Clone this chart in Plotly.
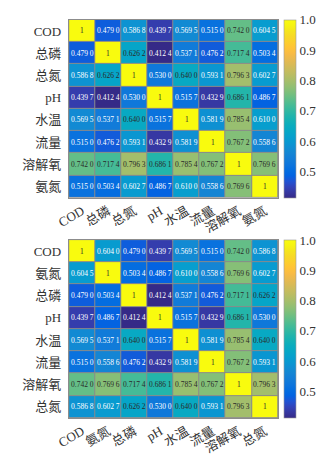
import plotly.graph_objects as go

labels_top = ["COD", "总磷", "总氮", "pH", "水温", "流量", "溶解氧", "氨氮"]
values_top = [
    [1, 0.4790, 0.5868, 0.4397, 0.5695, 0.5150, 0.7420, 0.6045],
    [0.4790, 1, 0.6262, 0.4124, 0.5371, 0.4762, 0.7174, 0.5034],
    [0.5868, 0.6262, 1, 0.5300, 0.6400, 0.5931, 0.7963, 0.6027],
    [0.4397, 0.4124, 0.5300, 1, 0.5157, 0.4329, 0.6861, 0.4867],
    [0.5695, 0.5371, 0.6400, 0.5157, 1, 0.5819, 0.7854, 0.6100],
    [0.5150, 0.4762, 0.5931, 0.4329, 0.5819, 1, 0.7672, 0.5586],
    [0.7420, 0.7174, 0.7963, 0.6861, 0.7854, 0.7672, 1, 0.7696],
    [0.5150, 0.5034, 0.6027, 0.4867, 0.6100, 0.5586, 0.7696, 1],
]

labels_bottom = ["COD", "氨氮", "总磷", "pH", "水温", "流量", "溶解氧", "总氮"]
values_bottom = [
    [1, 0.6040, 0.4790, 0.4397, 0.5695, 0.5150, 0.7420, 0.5868],
    [0.6045, 1, 0.5034, 0.4867, 0.6100, 0.5586, 0.7696, 0.6027],
    [0.4790, 0.5034, 1, 0.4124, 0.5371, 0.4762, 0.7171, 0.6262],
    [0.4397, 0.4867, 0.4124, 1, 0.5157, 0.4329, 0.6861, 0.5300],
    [0.5695, 0.5371, 0.6400, 0.5157, 1, 0.5819, 0.7854, 0.6400],
    [0.5150, 0.5586, 0.4762, 0.4329, 0.5819, 1, 0.7672, 0.5931],
    [0.7420, 0.7696, 0.7174, 0.6861, 0.7854, 0.7672, 1, 0.7963],
    [0.5868, 0.6027, 0.6262, 0.5300, 0.6400, 0.5931, 0.7963, 1],
]

colorbar_ticks = [0.5, 0.6, 0.7, 0.8, 0.9, 1.0]

parula = [
    (0.2081, 0.1663, 0.5292), (0.2123, 0.2138, 0.6270), (0.1959, 0.2645, 0.7279),
    (0.1253, 0.3242, 0.8303), (0.0117, 0.3875, 0.8820), (0.0165, 0.4266, 0.8786),
    (0.0498, 0.4586, 0.8641), (0.0723, 0.4887, 0.8467), (0.0793, 0.5200, 0.8312),
    (0.0641, 0.5570, 0.8240), (0.0343, 0.5966, 0.8199), (0.0239, 0.6287, 0.8038),
    (0.0228, 0.6535, 0.7768), (0.0384, 0.6743, 0.7436), (0.0843, 0.6928, 0.7062),
    (0.1453, 0.7098, 0.6646), (0.2178, 0.7250, 0.6193), (0.3022, 0.7376, 0.5712),
    (0.3953, 0.7459, 0.5244), (0.4871, 0.7491, 0.4840), (0.5709, 0.7485, 0.4494),
    (0.6473, 0.7456, 0.4188), (0.7184, 0.7411, 0.3905), (0.7858, 0.7356, 0.3633),
    (0.8507, 0.7299, 0.3360), (0.9139, 0.7258, 0.3063), (0.9739, 0.7314, 0.2666),
    (0.9990, 0.7653, 0.2164), (0.9880, 0.8066, 0.1794), (0.9697, 0.8481, 0.1475),
    (0.9589, 0.8949, 0.1132), (0.9661, 0.9514, 0.0755), (0.9763, 0.9831, 0.0538),
]
n = len(parula)
colorscale = [[i / (n - 1), "rgb(%d,%d,%d)" % tuple(round(c * 255) for c in rgb)]
              for i, rgb in enumerate(parula)]

FONT = "Liberation Serif, 'Times New Roman', 'Noto Sans CJK SC', serif"
W, H = 335, 456
x0, x1 = 58 / W, 276 / W
domains = [(1 - 199 / H, 1 - 20 / H), (1 - 420.7 / H, 1 - 241.7 / H)]

fig = go.Figure()
annotations = []
for k, (labels, vals) in enumerate([(labels_top, values_top), (labels_bottom, values_bottom)]):
    suffix = "" if k == 0 else "2"
    xa, ya = "x" + suffix, "y" + suffix
    dom = domains[k]
    fig.add_trace(go.Heatmap(
        z=vals, x=labels, y=labels, xaxis=xa, yaxis=ya,
        colorscale=colorscale, zmin=0.4124, zmax=1.0,
        xgap=1, ygap=1, hoverinfo="skip",
        colorbar=dict(
            x=281.7 / W, xanchor="left", thickness=11.5,
            lenmode="fraction", len=dom[1] - dom[0], y=(dom[0] + dom[1]) / 2, yanchor="middle",
            outlinewidth=0.6, outlinecolor="#999999",
            tickvals=colorbar_ticks, ticktext=["%.1f" % t for t in colorbar_ticks],
            ticks="", tickfont=dict(family=FONT, size=13, color="#333333"),
            ypad=0, xpad=0,
        ),
    ))
    for i, rl in enumerate(labels):
        for j, cl in enumerate(labels):
            v = vals[i][j]
            if v == 1:
                txt = "1"
            else:
                s = "%.4f" % v
                txt = s[:5] + " " + s[5:]
            annotations.append(dict(
                x=cl, y=rl, xref=xa, yref=ya, text=txt, showarrow=False,
                font=dict(family=FONT, size=7.5,
                          color="#2a2a2a" if v >= 0.62 else "#ffffff"),
            ))
    axis_common = dict(showline=True, mirror=True, linecolor="#8c8c8c", linewidth=1,
                       ticks="", showgrid=False, zeroline=False,
                       tickfont=dict(family=FONT, size=13, color="#333333"))
    fig.layout["xaxis" + suffix] = dict(domain=[x0, x1], anchor=ya, tickangle=-30,
                                        **axis_common)
    fig.layout["yaxis" + suffix] = dict(domain=list(dom), anchor=xa, autorange="reversed",
                                        ticklabelstandoff=4, **axis_common)

fig.update_layout(
    width=W, height=H, margin=dict(l=0, r=0, t=0, b=0),
    paper_bgcolor="white", plot_bgcolor="#8a8a8a",
    annotations=annotations, showlegend=False,
)
fig.write_html("out.html")
